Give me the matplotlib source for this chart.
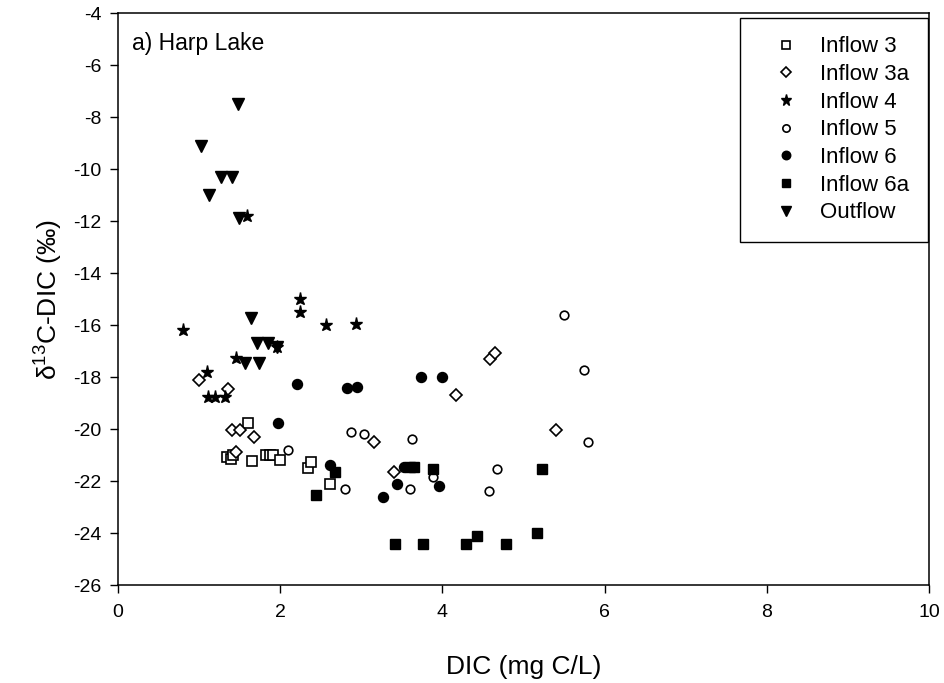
import matplotlib
matplotlib.use("Agg")
import matplotlib.pyplot as plt

plt.rcParams['font.family'] = ['Liberation Sans', 'DejaVu Sans']
plt.rcParams['mathtext.fontset'] = 'custom'
plt.rcParams['mathtext.rm'] = 'Liberation Sans'
plt.rcParams['mathtext.it'] = 'Liberation Sans:italic'
plt.rcParams['axes.unicode_minus'] = False

# data (DIC mg C/L vs d13C-DIC permil)
in3_x = [1.35, 1.39, 1.42, 1.60, 1.65, 1.82, 1.87, 1.91, 2.00, 2.34, 2.38, 2.62]
in3_y = [-21.08, -21.14, -21.0, -19.76, -21.23, -21.0, -21.0, -21.0, -21.2, -21.5, -21.26, -22.1]

in3a_x = [1.00, 1.36, 1.40, 1.51, 1.68, 1.45, 3.16, 3.40, 4.17, 4.59, 4.65, 5.40]
in3a_y = [-18.1, -18.46, -20.04, -20.04, -20.32, -20.87, -20.5, -21.67, -18.69, -17.32, -17.07, -20.05]

in4_x = [0.80, 1.59, 2.24, 2.24, 2.56, 2.93, 1.96, 1.45, 1.10, 1.11, 1.19, 1.32]
in4_y = [-16.19, -11.8, -15.0, -15.5, -16.0, -15.96, -16.83, -17.28, -17.8, -18.78, -18.78, -18.76]

in5_x = [2.10, 2.80, 2.87, 3.03, 3.62, 3.88, 3.60, 4.67, 4.57, 5.50, 5.75, 5.79]
in5_y = [-20.8, -22.3, -20.1, -20.2, -20.38, -21.83, -22.3, -21.53, -22.4, -15.6, -17.73, -20.5]

in6_x = [1.97, 2.21, 2.82, 2.95, 2.61, 3.74, 3.99, 3.53, 3.44, 3.96, 3.27]
in6_y = [-19.78, -18.28, -18.43, -18.38, -21.4, -18.0, -18.0, -21.47, -22.12, -22.19, -22.6]

in6a_x = [2.44, 2.67, 3.60, 3.65, 3.88, 5.23, 3.41, 3.76, 4.29, 4.43, 4.78, 5.17]
in6a_y = [-22.54, -21.64, -21.45, -21.45, -21.54, -21.54, -24.43, -24.43, -24.43, -24.1, -24.43, -23.99]

out_x = [1.48, 1.02, 1.27, 1.41, 1.12, 1.49, 1.64, 1.72, 1.85, 1.96, 1.56, 1.74]
out_y = [-7.5, -9.1, -10.3, -10.3, -11.0, -11.9, -15.74, -16.68, -16.7, -16.85, -17.47, -17.47]

fig = plt.figure(figsize=(9.45, 6.83), dpi=100)
ax = fig.add_axes([118 / 945, 1 - 585 / 683, 811 / 945, 572 / 683])

mew = 1.2
ax.plot(in3_x, in3_y, 's', ms=6.8, mfc='white', mec='black', mew=mew, label='Inflow 3')
ax.plot(in3a_x, in3a_y, 'D', ms=6.0, mfc='white', mec='black', mew=mew, label='Inflow 3a')
ax.plot(in4_x, in4_y, '*', ms=9.5, color='black', label='Inflow 4')
ax.plot(in5_x, in5_y, 'o', ms=6.2, mfc='white', mec='black', mew=mew, label='Inflow 5')
ax.plot(in6_x, in6_y, 'o', ms=7.2, color='black', label='Inflow 6')
ax.plot(in6a_x, in6a_y, 's', ms=7.3, color='black', label='Inflow 6a')
ax.plot(out_x, out_y, 'v', ms=9, color='black', label='Outflow')

ax.set_xlim(0, 10)
ax.set_ylim(-26, -4)
ax.set_xticks(range(0, 11, 2))
ax.set_yticks(range(-26, -3, 2))
ax.tick_params(direction='out', length=6, width=1, labelsize=14, top=False, right=False)
ax.tick_params(axis='x', pad=8)
ax.tick_params(axis='y', pad=6)
for s in ax.spines.values():
    s.set_linewidth(1.1)

ax.set_xlabel('DIC (mg C/L)', fontsize=19, labelpad=24)
ax.set_ylabel('δ$^{13}$C-DIC (‰)', fontsize=19, labelpad=6)

ax.text(0.017, 0.935, 'a) Harp Lake', transform=ax.transAxes, fontsize=16.5, va='baseline')

leg = ax.legend(loc='upper right', bbox_to_anchor=(0.999, 0.992), borderaxespad=0,
                fontsize=16, fancybox=False, edgecolor='black', framealpha=1,
                borderpad=0.85, handlelength=2.4, handletextpad=0.35, labelspacing=0.3,
                numpoints=1, markerscale=0.85)
leg.get_frame().set_linewidth(1.0)

fig.savefig('out.png', dpi=100)
